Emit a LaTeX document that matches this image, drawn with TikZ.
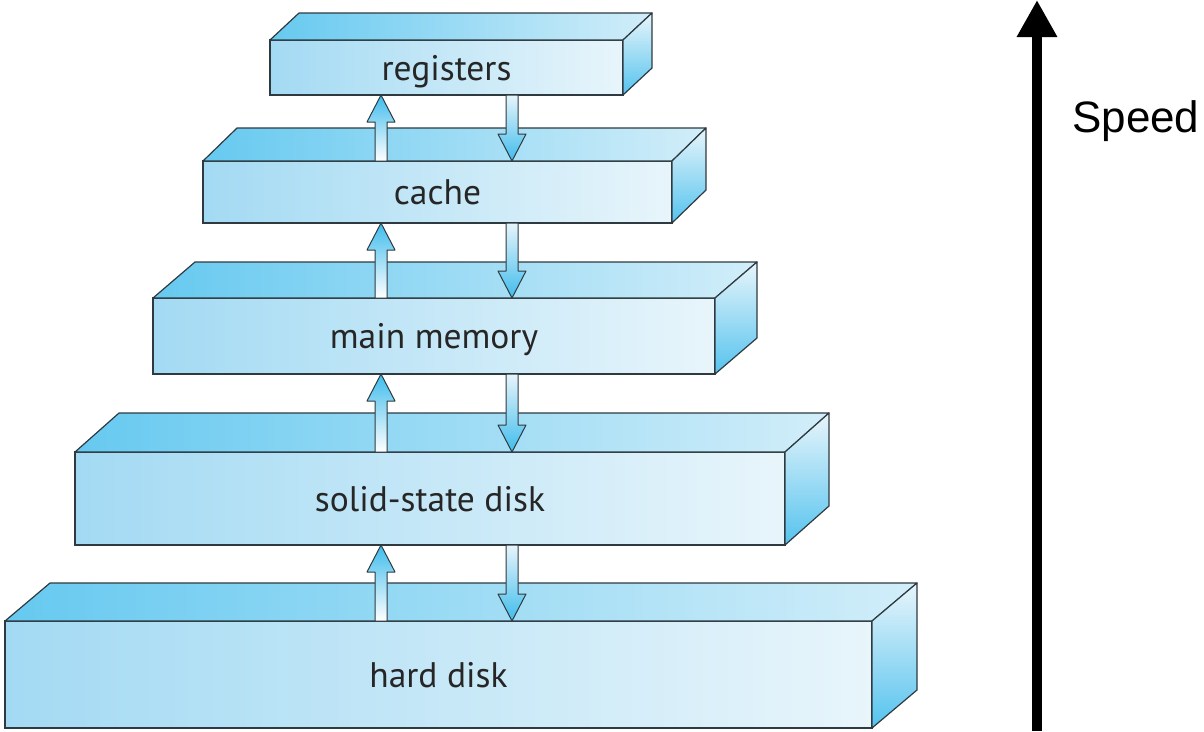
\documentclass[tikz,border=0pt]{standalone}
\usepackage{fontspec}
\setmainfont{PT Sans}
\newfontfamily\speedfont{Liberation Sans}
\usetikzlibrary{arrows.meta,calc}
\definecolor{slabdark}{HTML}{55C3EE}
\definecolor{slabmid}{HTML}{A3DAF3}
\definecolor{slablight}{HTML}{E8F5FB}
\definecolor{arrblue}{HTML}{3FBCEC}
\definecolor{edge}{HTML}{2E3A40}

\begin{document}
\begin{tikzpicture}[x=1pt,y=-1pt,
front/.style={draw=edge,line width=1.2pt,left color=slabmid,right color=slablight,
  inner sep=0pt,outer sep=0pt,text depth=0pt,text=black!85,font=\fontsize{35.5}{36}\selectfont},
topface/.style={draw=edge,line width=1.2pt,line join=round,left color=slabdark!90,right color=slablight!85!slabdark},
sideface/.style={draw=edge,line width=1.2pt,line join=round,top color=slablight,bottom color=slabdark},
uparr/.style={draw=edge,line width=1pt,line join=round,top color=arrblue,bottom color=white},
dnarr/.style={draw=edge,line width=1pt,line join=round,top color=slablight,bottom color=arrblue}]
\useasboundingbox (0,0) rectangle (1204,731);
% storage levels, front faces
\node[front,minimum width=353,minimum height=55] (reg) at (446.5,67.5) {registers};
\node[front,minimum width=469,minimum height=62] (cache) at (437.5,192) {cache};
\node[front,minimum width=562,minimum height=76] (mem) at (434,336) {main memory};
\node[front,minimum width=710,minimum height=93] (ssd) at (430,498.5) {solid-state disk};
\node[front,minimum width=867,minimum height=107] (hd) at (438.5,674.5) {hard disk};
% top and side faces
\foreach \n/\dx/\dy in {reg/29/-27,cache/34/-33,mem/42/-36,ssd/44/-39,hd/45/-38}{
  \draw[topface] (\n.north west) -- ++(\dx,\dy) -- ($(\n.north east)+(\dx,\dy)$) -- (\n.north east) -- cycle;
  \draw[sideface] (\n.north east) -- ++(\dx,\dy) -- ($(\n.south east)+(\dx,\dy)$) -- (\n.south east) -- cycle;
}
% transfer arrows
\coordinate (upx) at (381,0);
\coordinate (dnx) at (512,0);
\foreach \lo/\hi in {cache/reg,mem/cache,ssd/mem,hd/ssd}{
  \draw[uparr] ($(\lo.north -| upx)+(-6,0)$) -- ($(\hi.south -| upx)+(-6,27)$) -- ($(\hi.south -| upx)+(-14,27)$)
    -- (\hi.south -| upx) -- ($(\hi.south -| upx)+(14,27)$) -- ($(\hi.south -| upx)+(6,27)$) -- ($(\lo.north -| upx)+(6,0)$) -- cycle;
  \draw[dnarr] ($(\hi.south -| dnx)+(-6,0)$) -- ($(\lo.north -| dnx)+(-6,-27)$) -- ($(\lo.north -| dnx)+(-14,-27)$)
    -- (\lo.north -| dnx) -- ($(\lo.north -| dnx)+(14,-27)$) -- ($(\lo.north -| dnx)+(6,-27)$) -- ($(\hi.south -| dnx)+(6,0)$) -- cycle;
}
% speed axis
\coordinate (spdlo) at (1037,731);
\coordinate (spdhi) at (1037,0);
\draw[line width=9.5pt,-{Triangle[length=37pt,width=38pt]}] (spdlo) -- (spdhi);
\node[anchor=base west,inner sep=0pt,font=\speedfont\fontsize{44}{44}\selectfont] (speed) at (1072,132) {Speed};
\end{tikzpicture}
\end{document}
